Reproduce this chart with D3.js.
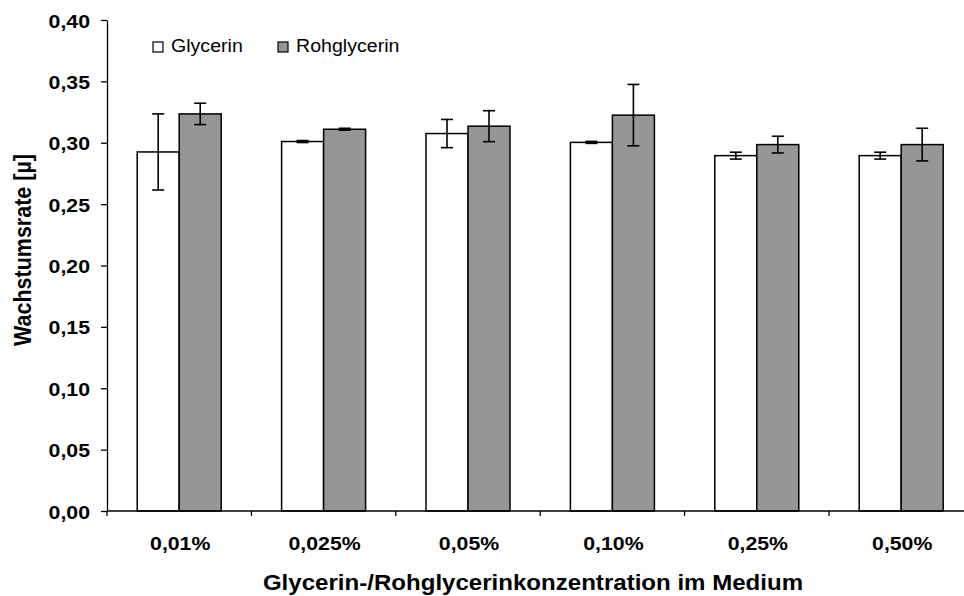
<!DOCTYPE html>
<html>
<head>
<meta charset="utf-8">
<script src="https://cdn.jsdelivr.net/npm/d3@7"></script>
<style>
  html, body { margin: 0; padding: 0; background: #fff; }
  svg { display: block; font-family: "Liberation Sans", Arial, sans-serif; }
</style>
</head>
<body>
<svg id="chart" width="964" height="596"></svg>
<script>
// ---- data ----
const categories = ["0,01%", "0,025%", "0,05%", "0,10%", "0,25%", "0,50%"];
const seriesNames = ["Glycerin", "Rohglycerin"];
const glycerin = [0.2925, 0.301, 0.3075, 0.3003, 0.2895, 0.2895];
const glycerinErr = [0.031, 0.0008, 0.0115, 0.0008, 0.0028, 0.0028];
const rohglycerin = [0.3235, 0.311, 0.3135, 0.3225, 0.2985, 0.2985];
const rohglycerinErr = [0.0087, 0.0008, 0.0126, 0.025, 0.0068, 0.0133];
const yTicks = [0, 0.05, 0.10, 0.15, 0.20, 0.25, 0.30, 0.35, 0.40];
const yTitle = "Wachstumsrate [µ]";
const xTitle = "Glycerin-/Rohglycerinkonzentration im Medium";

const colors = { "Glycerin": "#ffffff", "Rohglycerin": "#969696" };
const SX = 1.12; // horizontal text stretch seen in the reference

const svg = d3.select("#chart");

const plotLeft = 107, plotRight = 973.4, plotTop = 20, plotBottom = 511;
const x0 = d3.scaleBand().domain(categories).range([plotLeft, plotRight]).padding(0);
const pairW = 84;
const x1 = d3.scaleBand().domain(seriesNames)
  .range([(x0.bandwidth() - pairW) / 2, (x0.bandwidth() + pairW) / 2]).padding(0);
const y = d3.scaleLinear().domain([0, 0.4]).range([plotBottom, plotTop]);

const fmt = v => d3.format(".2f")(v).replace(".", ",");

const rows = categories.map((c, i) => ({
  cat: c,
  vals: [
    { s: "Glycerin", v: glycerin[i], e: glycerinErr[i] },
    { s: "Rohglycerin", v: rohglycerin[i], e: rohglycerinErr[i] }
  ]
}));

// bars
const g = svg.append("g");
const groups = g.selectAll("g.grp").data(rows).join("g")
  .attr("class", "grp")
  .attr("transform", d => `translate(${x0(d.cat)},0)`);

groups.selectAll("rect").data(d => d.vals).join("rect")
  .attr("x", d => x1(d.s))
  .attr("y", d => y(d.v))
  .attr("width", x1.bandwidth())
  .attr("height", d => y(0) - y(d.v))
  .attr("fill", d => colors[d.s])
  .attr("stroke", "#000")
  .attr("stroke-width", 1.5);

// error bars
const capW = 12;
const eb = groups.selectAll("g.err").data(d => d.vals).join("g").attr("class", "err")
  .attr("stroke", "#000").attr("stroke-width", 1.6);
eb.append("line")
  .attr("x1", d => x1(d.s) + x1.bandwidth() / 2)
  .attr("x2", d => x1(d.s) + x1.bandwidth() / 2)
  .attr("y1", d => y(d.v + d.e)).attr("y2", d => y(d.v - d.e));
eb.append("line")
  .attr("x1", d => x1(d.s) + x1.bandwidth() / 2 - capW / 2)
  .attr("x2", d => x1(d.s) + x1.bandwidth() / 2 + capW / 2)
  .attr("y1", d => y(d.v + d.e)).attr("y2", d => y(d.v + d.e));
eb.append("line")
  .attr("x1", d => x1(d.s) + x1.bandwidth() / 2 - capW / 2)
  .attr("x2", d => x1(d.s) + x1.bandwidth() / 2 + capW / 2)
  .attr("y1", d => y(d.v - d.e)).attr("y2", d => y(d.v - d.e));

// y axis
const yAxis = d3.axisLeft(y).tickValues(yTicks).tickSize(6).tickSizeOuter(0).tickFormat(fmt);
const ya = svg.append("g").attr("transform", `translate(${plotLeft},0)`).call(yAxis);
ya.select(".domain").attr("stroke", "#000").attr("stroke-width", 1.3);
ya.selectAll(".tick line").attr("stroke", "#000").attr("stroke-width", 1.3);
ya.selectAll(".tick text").remove();
ya.selectAll(".tick").append("text")
  .attr("transform", `translate(-17,7) scale(${SX},1)`)
  .attr("text-anchor", "end")
  .attr("font-size", 19).attr("font-weight", "bold").attr("fill", "#000")
  .attr("font-family", "'Liberation Sans', Arial, sans-serif")
  .text(d => fmt(d));

// x axis
const xa = svg.append("g").attr("transform", `translate(0,${plotBottom})`);
xa.append("line").attr("x1", plotLeft).attr("x2", plotRight).attr("y1", 0).attr("y2", 0)
  .attr("stroke", "#000").attr("stroke-width", 1.3);
const bounds = categories.map(c => x0(c)).concat([plotRight]);
xa.selectAll("line.tk").data(bounds).join("line").attr("class", "tk")
  .attr("x1", d => d).attr("x2", d => d).attr("y1", 0).attr("y2", 5)
  .attr("stroke", "#000").attr("stroke-width", 1.3);
xa.selectAll("text.cat").data(categories).join("text").attr("class", "cat")
  .attr("transform", d => `translate(${x0(d) + x0.bandwidth() / 2 + 1},39) scale(${SX},1)`)
  .attr("text-anchor", "middle")
  .attr("font-size", 19).attr("font-weight", "bold").attr("fill", "#000")
  .text(d => d);

// titles
svg.append("text")
  .attr("transform", `translate(533,590) scale(${SX},1)`)
  .attr("text-anchor", "middle")
  .attr("font-size", 21.5).attr("font-weight", "bold").attr("fill", "#000")
  .text(xTitle);

svg.append("text")
  .attr("transform", `translate(31,250) scale(${SX},1) rotate(-90)`)
  .attr("text-anchor", "middle")
  .attr("font-size", 21.5).attr("font-weight", "bold").attr("fill", "#000")
  .text(yTitle);

// legend
const legendX = [153, 278];
const lg = svg.append("g").selectAll("g").data(seriesNames).join("g")
  .attr("transform", (d, i) => `translate(${legendX[i]},42)`);
lg.append("rect").attr("x", 0).attr("y", 0).attr("width", 10).attr("height", 10)
  .attr("fill", d => colors[d]).attr("stroke", "#000").attr("stroke-width", 1.2);
lg.append("text")
  .attr("transform", `translate(18,10) scale(${SX},1)`)
  .attr("font-size", 17.5).attr("fill", "#000")
  .text(d => d);
</script>
</body>
</html>
